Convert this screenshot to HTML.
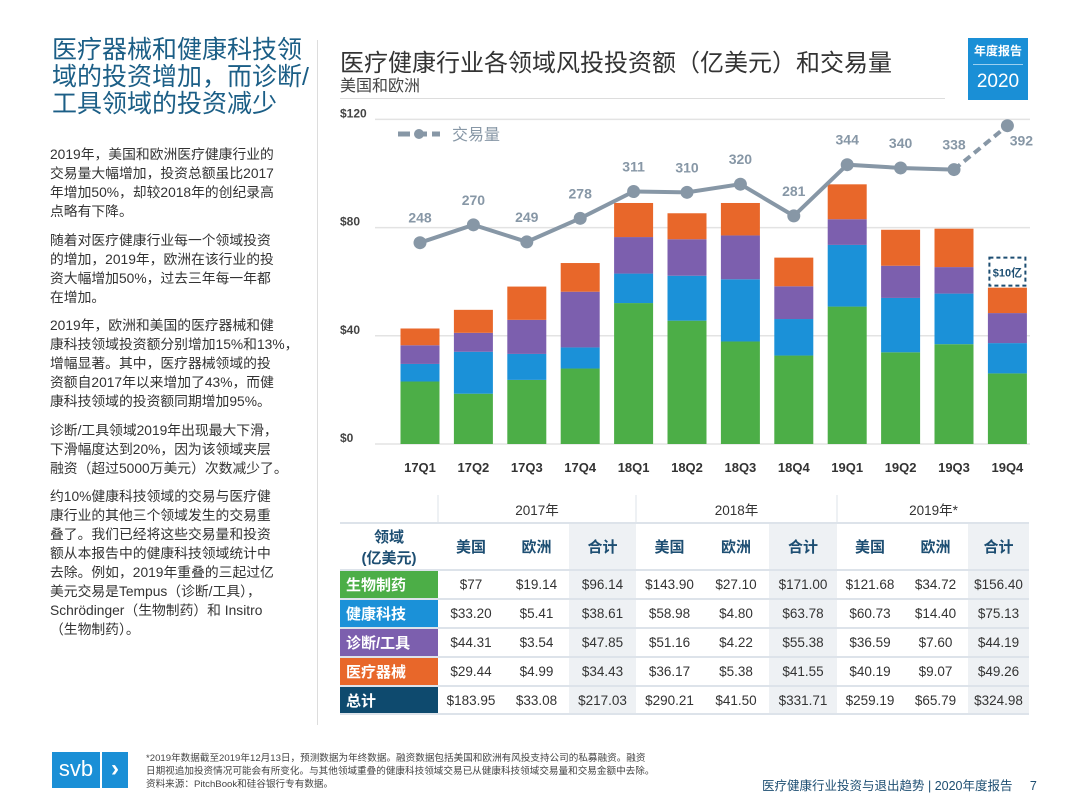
<!DOCTYPE html>
<html><head><meta charset="utf-8"><style>
body{margin:0;width:1080px;height:811px;background:#fff;font-family:"Liberation Sans","Noto Sans CJK SC",sans-serif;position:relative;overflow:hidden}
.abs{position:absolute}
#lt{left:52px;top:37px;font-size:25px;line-height:27px;color:#1b5e86;width:260px}
#body{left:50px;top:145px;width:275px;font-size:13.8px;line-height:19px;color:#333}
#body p{margin:0 0 9.5px 0}
#sep{left:317px;top:40px;width:1px;height:685px;background:#ddd}
#ct{left:340px;top:43px;font-size:24px;color:#333}
#cs{left:340px;top:72px;font-size:16px;color:#444}
#rule{left:340px;top:98px;width:605px;height:1px;background:#ddd}
#badge{left:968px;top:38px;width:60px;height:62px;background:#1a8fd6;color:#fff;text-align:center}
table{border-collapse:collapse;position:absolute;left:340px;top:495px;font-size:13.5px;color:#333}
td{text-align:center;padding:0;border-bottom:2px solid #dde3ea}
.lab{color:#fff;font-weight:bold;text-align:left;padding-left:6px;font-size:15px}
.sh{background:#eef1f4}
.hd{font-weight:bold;color:#1d4e72;font-size:15px}
</style></head><body>
<div id="lt" class="abs">医疗器械和健康科技领域的投资增加，而诊断/工具领域的投资减少</div>
<div id="body" class="abs">
<p>2019年，美国和欧洲医疗健康行业的<br>交易量大幅增加，投资总额虽比2017<br>年增加50%，却较2018年的创纪录高<br>点略有下降。</p>
<p>随着对医疗健康行业每一个领域投资<br>的增加，2019年，欧洲在该行业的投<br>资大幅增加50%，过去三年每一年都<br>在增加。</p>
<p>2019年，欧洲和美国的医疗器械和健<br>康科技领域投资额分别增加15%和13%，<br>增幅显著。其中，医疗器械领域的投<br>资额自2017年以来增加了43%，而健<br>康科技领域的投资额同期增加95%。</p>
<p>诊断/工具领域2019年出现最大下滑，<br>下滑幅度达到20%，因为该领域夹层<br>融资（超过5000万美元）次数减少了。</p>
<p>约10%健康科技领域的交易与医疗健<br>康行业的其他三个领域发生的交易重<br>叠了。我们已经将这些交易量和投资<br>额从本报告中的健康科技领域统计中<br>去除。例如，2019年重叠的三起过亿<br>美元交易是Tempus（诊断/工具），<br>Schrödinger（生物制药）和 Insitro<br>（生物制药）。</p>
</div>
<div id="sep" class="abs"></div>
<div id="ct" class="abs">医疗健康行业各领域风投投资额（亿美元）和交易量</div>
<div id="cs" class="abs">美国和欧洲</div>
<div id="rule" class="abs"></div>
<div id="badge" class="abs"><div style="font-size:12px;font-weight:bold;margin-top:4px;border-bottom:1px solid #9cd0f0;margin:4px 5px 0;padding-bottom:5px">年度报告</div><div style="font-size:19px;margin-top:6px">2020</div></div>
<svg id="chart" class="abs" style="left:330px;top:105px" width="720" height="385"></svg>
<table>
<colgroup><col style="width:98px"><col style="width:66px"><col style="width:65px"><col style="width:67px"><col style="width:67px"><col style="width:66px"><col style="width:68px"><col style="width:66px"><col style="width:65px"><col style="width:61px"></colgroup>
<tr style="height:28px"><td></td><td colspan="3" style="border-left:2px solid #eef1f4">2017年</td><td colspan="3" style="border-left:2px solid #eef1f4">2018年</td><td colspan="3" style="border-left:2px solid #eef1f4">2019年*</td></tr>
<tr style="height:47px"><td class="hd">领域<br>(亿美元)</td><td class="hd">美国</td><td class="hd">欧洲</td><td class="hd sh">合计</td><td class="hd">美国</td><td class="hd">欧洲</td><td class="hd sh">合计</td><td class="hd">美国</td><td class="hd">欧洲</td><td class="hd sh">合计</td></tr>
<tr style="height:29px"><td class="lab" style="background:#4cae47">生物制药</td><td>$77</td><td>$19.14</td><td class="sh">$96.14</td><td>$143.90</td><td>$27.10</td><td class="sh">$171.00</td><td>$121.68</td><td>$34.72</td><td class="sh">$156.40</td></tr>
<tr style="height:29px"><td class="lab" style="background:#1b91d8">健康科技</td><td>$33.20</td><td>$5.41</td><td class="sh">$38.61</td><td>$58.98</td><td>$4.80</td><td class="sh">$63.78</td><td>$60.73</td><td>$14.40</td><td class="sh">$75.13</td></tr>
<tr style="height:29px"><td class="lab" style="background:#7c5fae">诊断/工具</td><td>$44.31</td><td>$3.54</td><td class="sh">$47.85</td><td>$51.16</td><td>$4.22</td><td class="sh">$55.38</td><td>$36.59</td><td>$7.60</td><td class="sh">$44.19</td></tr>
<tr style="height:29px"><td class="lab" style="background:#e8672a">医疗器械</td><td>$29.44</td><td>$4.99</td><td class="sh">$34.43</td><td>$36.17</td><td>$5.38</td><td class="sh">$41.55</td><td>$40.19</td><td>$9.07</td><td class="sh">$49.26</td></tr>
<tr style="height:28px"><td class="lab" style="background:#0e4a6e">总计</td><td>$183.95</td><td>$33.08</td><td class="sh">$217.03</td><td>$290.21</td><td>$41.50</td><td class="sh">$331.71</td><td>$259.19</td><td>$65.79</td><td class="sh">$324.98</td></tr>
</table>
<div class="abs" style="left:52px;top:752px;width:76px;height:36px;display:flex"><div style="width:48px;background:#1a8fd6;color:#fff;font-size:22px;text-align:center;line-height:34px">svb</div><div style="width:26px;margin-left:2px;background:#1a8fd6;color:#fff;font-size:24px;text-align:center;line-height:34px;font-weight:bold">›</div></div>
<div class="abs" style="left:146px;top:752px;font-size:9.6px;line-height:13px;color:#444">*2019年数据截至2019年12月13日，预测数据为年终数据。融资数据包括美国和欧洲有风投支持公司的私募融资。融资<br>日期视追加投资情况可能会有所变化。与其他领域重叠的健康科技领域交易已从健康科技领域交易量和交易金额中去除。<br>资料来源：PitchBook和硅谷银行专有数据。</div>
<div class="abs" style="left:762px;top:775px;font-size:12.5px;color:#1d4e72">医疗健康行业投资与退出趋势 | 2020年度报告 &nbsp;&nbsp;&nbsp; 7</div>
<script>
const quarters=["17Q1","17Q2","17Q3","17Q4","18Q1","18Q2","18Q3","18Q4","19Q1","19Q2","19Q3","19Q4"];
const biopharma=[23.1,18.6,23.7,27.9,52.1,45.6,37.9,32.7,50.8,33.9,36.9,26.1];
const healthtech=[6.5,15.5,9.6,7.8,10.9,16.6,23.0,13.5,22.8,20.1,18.7,11.2];
const dxtools=[6.9,7.0,12.6,20.6,13.5,13.5,16.2,12.1,9.5,11.9,9.8,11.1];
const devices=[6.2,8.5,12.3,10.6,12.6,9.6,12.0,10.6,12.9,13.3,14.2,9.4];
const deals=[248,270,249,278,311,310,320,281,344,340,338,392];
const yTicks=[0,40,80,120];
const NS="http://www.w3.org/2000/svg";
const svg=document.getElementById('chart');
const y0=339,pxPer=2.705,x0=90,step=53.4,bw=39;
const yS=v=>y0-v*pxPer;
const xS=i=>x0+i*step;
const dY=d=>137.7-(d-248)*0.8125;
function mk(t,a){const e=document.createElementNS(NS,t);for(const k in a)e.setAttribute(k,a[k]);svg.appendChild(e);return e;}
yTicks.forEach(t=>{const l=mk('line',{x1:45,x2:700,y1:yS(t),y2:yS(t),stroke:'#e3e3e3','stroke-width':1.5});


const tx=mk('text',{x:10,y:yS(t)-2,'font-size':12,'font-weight':'bold',fill:'#444'});tx.textContent='$'+t;

});
const series=[[biopharma,'#4cae47'],[healthtech,'#1b91d8'],[dxtools,'#7c5fae'],[devices,'#e8672a']];
quarters.forEach((q,i)=>{let base=0;series.forEach(([arr,c])=>{const v=arr[i];const r=mk('rect',{x:xS(i)-bw/2,y:yS(base+v),width:bw,height:v*pxPer,fill:c});


base+=v;});
const t=mk('text',{x:xS(i),y:y0+28,'text-anchor':'middle','font-size':13,'font-weight':'bold',fill:'#333'});t.textContent=q;

});
const tot=biopharma[11]+healthtech[11]+dxtools[11]+devices[11];
const bx=mk('rect',{x:xS(11)-18,y:yS(tot)-30,width:36,height:28,fill:'#fff',stroke:'#1d4e72','stroke-width':2,'stroke-dasharray':'4 3'});


const bt=mk('text',{x:xS(11),y:yS(tot)-11,'text-anchor':'middle','font-size':11,'font-weight':'bold',fill:'#1d4e72'});bt.textContent='$10亿';


let p='';for(let i=0;i<11;i++)p+=(i?'L':'M')+xS(i)+','+dY(deals[i]);
const ln=mk('path',{d:p,fill:'none',stroke:'#8797a6','stroke-width':4});


const dl=mk('path',{d:'M'+xS(10)+','+dY(deals[10])+'L'+xS(11)+','+dY(deals[11]),fill:'none',stroke:'#8797a6','stroke-width':4,'stroke-dasharray':'8 5'});


deals.forEach((d,i)=>{const c=mk('circle',{cx:xS(i),cy:dY(d),r:6.5,fill:'#8797a6'});


const t=mk('text',{x:xS(i)+(i==11?14:0),y:dY(d)-(i==11?-20:20),'text-anchor':'middle','font-size':14,'font-weight':'bold',fill:'#8797a6'});t.textContent=d;

});
const lg=mk('line',{x1:68,x2:110,y1:29,y2:29,stroke:'#8797a6','stroke-width':5,'stroke-dasharray':'12 5'});


const lc=mk('circle',{cx:89,cy:29,r:5,fill:'#8797a6'});


const lt=mk('text',{x:122,y:35,'font-size':16,fill:'#8797a6'});lt.textContent='交易量';


</script>
</body></html>
